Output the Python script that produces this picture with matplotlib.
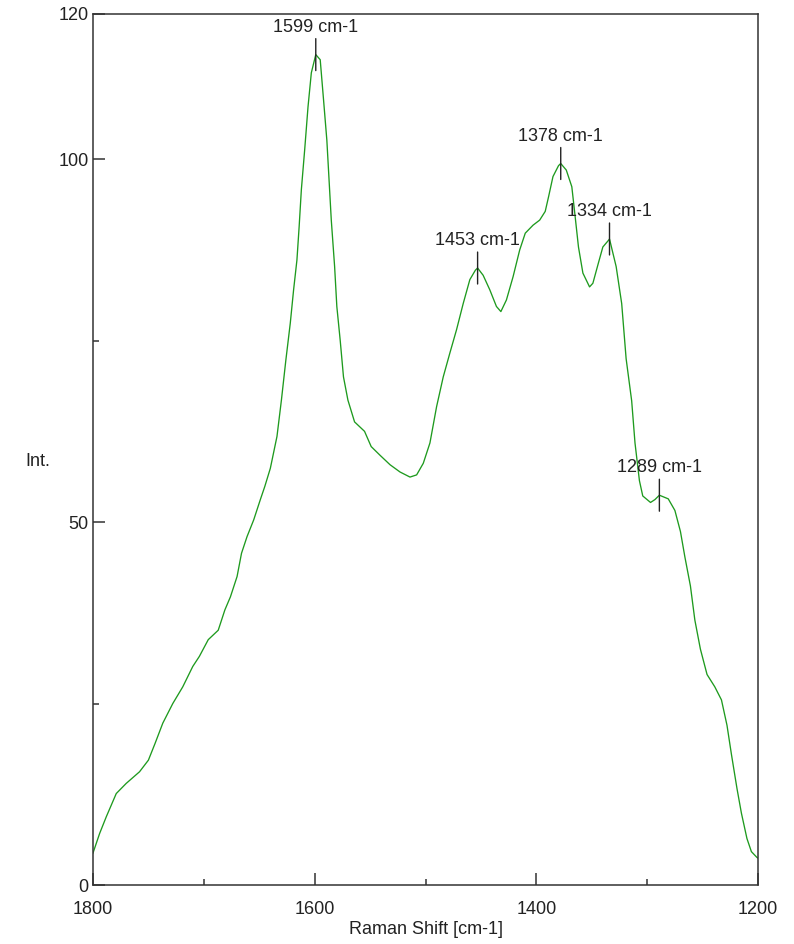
import matplotlib
matplotlib.use("Agg")
import matplotlib.pyplot as plt
from matplotlib.transforms import offset_copy
import numpy as np

plt.rcParams['font.family'] = ['Liberation Sans', 'DejaVu Sans']

# Raman spectrum (wavenumber in cm-1, intensity)
shift = [1800, 1794, 1788, 1779, 1770, 1758, 1750, 1744, 1737, 1728, 1719, 1710,
         1704, 1696, 1687, 1681, 1676, 1670, 1666, 1661, 1655, 1649, 1645, 1640,
         1634, 1630, 1626, 1622, 1619, 1616, 1614, 1612, 1609, 1606, 1603, 1599,
         1595, 1592, 1589, 1587, 1585, 1582, 1580, 1577, 1574, 1570, 1564, 1555,
         1549, 1541, 1532, 1523, 1514, 1508, 1502, 1496, 1490, 1484, 1478, 1472,
         1466, 1460, 1455, 1453, 1448, 1442, 1436, 1432, 1427, 1421, 1415, 1410,
         1403, 1397, 1392, 1389, 1385, 1380, 1378, 1373, 1368, 1365, 1362, 1358,
         1352, 1349, 1344, 1340, 1335, 1334, 1328, 1323, 1319, 1314, 1311, 1307,
         1304, 1297, 1293, 1289, 1281, 1275, 1270, 1266, 1261, 1257, 1252, 1246,
         1239, 1233, 1228, 1224, 1219, 1215, 1210, 1206, 1201, 1200]
intensity = [4.4, 7.1, 9.4, 12.6, 14.0, 15.6, 17.2, 19.5, 22.3, 25.0, 27.3, 30.1,
             31.5, 33.8, 35.1, 37.9, 39.7, 42.5, 45.7, 48.0, 50.3, 53.1, 54.9, 57.4,
             61.8, 66.8, 72.3, 77.4, 82.0, 86.1, 90.7, 95.8, 101.3, 107.2, 111.9, 114.4,
             113.7, 108.2, 102.6, 97.1, 91.6, 85.2, 79.7, 75.1, 70.0, 66.8, 63.8, 62.5,
             60.4, 59.2, 57.9, 56.9, 56.2, 56.5, 58.1, 60.9, 65.9, 70.0, 73.3, 76.5,
             80.1, 83.4, 84.7, 85.0, 84.0, 82.0, 79.7, 79.0, 80.6, 83.8, 87.5, 89.8,
             90.9, 91.6, 92.8, 94.8, 97.6, 99.1, 99.4, 98.5, 96.2, 92.1, 87.9, 84.3,
             82.4, 82.9, 85.7, 87.9, 88.8, 89.0, 85.2, 80.1, 72.5, 66.7, 60.9, 55.7,
             53.6, 52.7, 53.1, 53.7, 53.2, 51.6, 48.7, 45.2, 41.2, 36.5, 32.5, 29.0,
             27.3, 25.5, 22.0, 18.0, 13.3, 9.9, 6.4, 4.6, 3.8, 3.7]

peaks = [1599, 1453, 1378, 1334, 1289]

x_major = [1800, 1600, 1400, 1200]
x_minor = [1700, 1500, 1300]
y_major = [0, 50, 100, 120]
y_minor = [25, 75]

fig = plt.figure(figsize=(7.94, 9.44), dpi=100)
ax = fig.add_axes([0.1171, 0.0625, 0.9547 - 0.1171, 0.9852 - 0.0625])

ax.plot(shift, intensity, color='#1e9a1e', linewidth=0.95)

ax.set_xlim(1800, 1200)
ax.set_ylim(0, 120)

ax.set_xticks(x_major)
ax.set_xticks(x_minor, minor=True)
ax.set_yticks(y_major)
ax.set_yticks(y_minor, minor=True)

txt = '#222222'
fs = 13
ax.tick_params(axis='both', which='major', direction='in', length=8.5, width=1.1,
               color='#333333', labelsize=fs, labelcolor=txt)
ax.tick_params(axis='both', which='minor', direction='in', length=4.2, width=1.1,
               color='#333333')
ax.tick_params(axis='x', which='major', pad=11.5)
ax.tick_params(axis='y', which='major', pad=3)
for s in ax.spines.values():
    s.set_color('#333333')
    s.set_linewidth(1.1)

ax.set_xlabel('Raman Shift [cm-1]', fontsize=fs, color=txt, labelpad=2)
ax.set_ylabel('Int.', fontsize=fs, color=txt, rotation=0, va='center', ha='center')
ax.yaxis.set_label_coords(-0.083, 0.486)

# peak markers with labels
below = offset_copy(ax.transData, fig=fig, x=0, y=-11.5, units='points')
for p in peaks:
    h = float(np.interp(p, shift[::-1], intensity[::-1]))
    ax.annotate('', xy=(p, h), xycoords=below, xytext=(0, 23), textcoords='offset points',
                arrowprops=dict(arrowstyle='-', color='#222222', lw=1.0,
                                shrinkA=0, shrinkB=0))
    ax.annotate(f'{p} cm-1', xy=(p, h), xytext=(0, 13.5), textcoords='offset points',
                ha='center', va='bottom', fontsize=fs, color=txt)

fig.savefig('out.png', dpi=100)
